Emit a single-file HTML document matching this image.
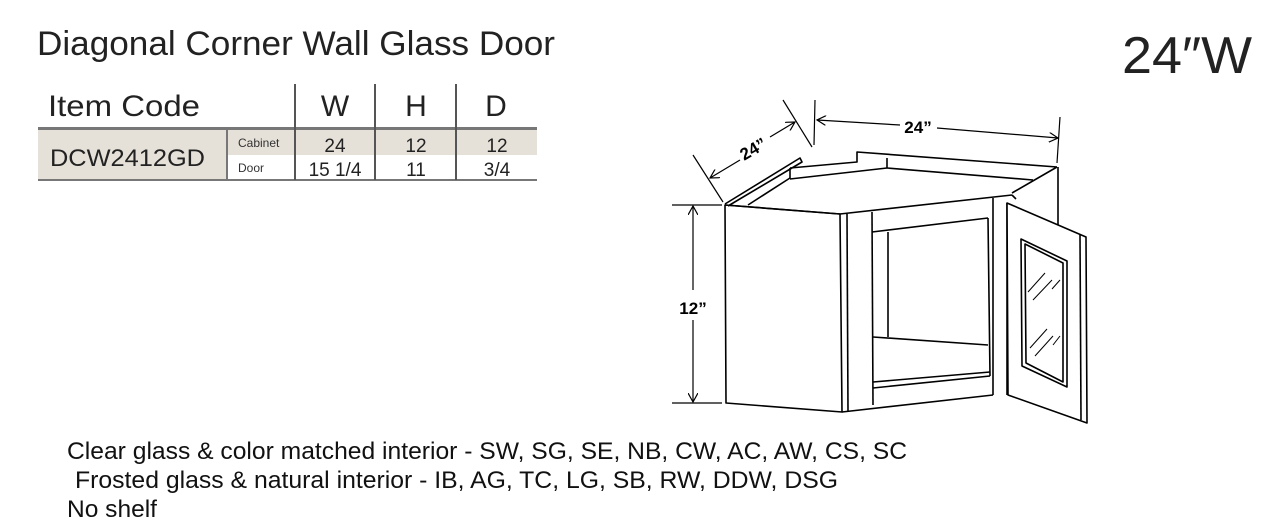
<!DOCTYPE html>
<html><head><meta charset="utf-8"><style>
html,body{margin:0;padding:0;background:#fff;}
svg{display:block;}
text{font-family:"Liberation Sans",sans-serif;}
</style></head><body>
<svg width="1262" height="532" viewBox="0 0 1262 532" xmlns="http://www.w3.org/2000/svg">
<defs>
<marker id="ar" markerWidth="10" markerHeight="10" refX="9" refY="5" orient="auto" markerUnits="userSpaceOnUse">
<path d="M0,0 L9,5 L0,10" fill="none" stroke="#000" stroke-width="1.2"/>
</marker>
</defs>
<!-- Titles -->
<text x="37" y="55" font-size="34" fill="#222" textLength="518" lengthAdjust="spacingAndGlyphs">Diagonal Corner Wall Glass Door</text>
<text x="1122" y="73" font-size="52" fill="#222" textLength="130" lengthAdjust="spacingAndGlyphs">24″W</text>

<!-- Table -->
<rect x="38" y="130" width="499" height="25" fill="#e6e1d8"/>
<rect x="38" y="155" width="189" height="25" fill="#e6e1d8"/>
<rect x="38" y="127" width="499" height="3" fill="#777"/>
<rect x="38" y="179" width="499" height="2" fill="#777"/>
<line x1="227" y1="130" x2="227" y2="180" stroke="#777" stroke-width="2"/>
<line x1="295" y1="84" x2="295" y2="180" stroke="#555" stroke-width="2"/>
<line x1="375" y1="84" x2="375" y2="180" stroke="#555" stroke-width="2"/>
<line x1="456" y1="84" x2="456" y2="180" stroke="#555" stroke-width="2"/>
<text x="48" y="116" font-size="30" fill="#222" textLength="152" lengthAdjust="spacingAndGlyphs">Item  Code</text>
<text x="335" y="116" font-size="30" fill="#222" text-anchor="middle">W</text>
<text x="416" y="116" font-size="30" fill="#222" text-anchor="middle">H</text>
<text x="496" y="116" font-size="30" fill="#222" text-anchor="middle">D</text>
<text x="50" y="166" font-size="24" fill="#222" textLength="155" lengthAdjust="spacingAndGlyphs">DCW2412GD</text>
<text x="238" y="147" font-size="12" fill="#333">Cabinet</text>
<text x="238" y="172" font-size="12" fill="#333">Door</text>
<text x="335" y="152" font-size="19" fill="#222" text-anchor="middle">24</text>
<text x="335" y="176" font-size="19" fill="#222" text-anchor="middle">15 1/4</text>
<text x="416" y="152" font-size="19" fill="#222" text-anchor="middle">12</text>
<text x="416" y="176" font-size="19" fill="#222" text-anchor="middle">11</text>
<text x="497" y="152" font-size="19" fill="#222" text-anchor="middle">12</text>
<text x="497" y="176" font-size="19" fill="#222" text-anchor="middle">3/4</text>

<!-- Cabinet drawing -->
<g fill="none" stroke="#000" stroke-width="1.6" stroke-linejoin="round">
<!-- left side -->
<polygon points="725,205 840,214 842,412 726,403" fill="#fff"/>
<!-- top left rail -->
<polyline points="725,204 800,158 802,162 728,206"/>
<line x1="748" y1="205" x2="790" y2="178"/>
<line x1="790" y1="168" x2="790" y2="179"/>
<!-- back edge -->
<polyline points="790,168 857,162 857,152 1057,167"/>
<line x1="790" y1="179" x2="887" y2="168"/>
<line x1="887" y1="168" x2="1033" y2="180"/>
<line x1="887" y1="158" x2="887" y2="168"/>
<line x1="1057" y1="167" x2="1012" y2="193"/>
<line x1="1058" y1="167" x2="1058" y2="270"/>
<!-- front top edge -->
<line x1="725" y1="205" x2="840" y2="214"/>
<line x1="840" y1="214" x2="1012" y2="195"/>
<line x1="1012" y1="195" x2="1016" y2="199"/>
<!-- front frame -->
<line x1="847" y1="214" x2="848" y2="412"/>
<line x1="872" y1="212" x2="873" y2="405"/>
<line x1="842" y1="412" x2="993" y2="395"/>
<line x1="872" y1="232" x2="988" y2="218"/>
<line x1="988" y1="218" x2="990" y2="376"/>
<line x1="993" y1="198" x2="993" y2="395"/>
<line x1="873" y1="388" x2="990" y2="376"/>
<line x1="873" y1="382" x2="990" y2="372"/>
<line x1="888" y1="232" x2="888" y2="337"/>
<line x1="873" y1="337" x2="988" y2="345"/>
<line x1="1007" y1="203" x2="1007" y2="395"/>
<!-- door -->
<polygon points="1007,203 1086,237 1087,423 1008,395" fill="#fff"/>
<line x1="1080" y1="235" x2="1081" y2="420"/>
<polygon points="1021,239 1067,261 1067,387 1022,366"/>
<polygon points="1025,244 1063,263 1063,382 1026,363"/>
</g>
<g stroke="#000" stroke-width="1">
<line x1="1028" y1="292" x2="1045" y2="273"/>
<line x1="1033" y1="300" x2="1052" y2="280"/>
<line x1="1052" y1="289" x2="1060" y2="280"/>
<line x1="1030" y1="348" x2="1047" y2="329"/>
<line x1="1035" y1="356" x2="1053" y2="336"/>
<line x1="1053" y1="345" x2="1060" y2="336"/>
</g>

<!-- dimension lines -->
<g stroke="#000" stroke-width="1.2" fill="none">
<line x1="672" y1="205" x2="722" y2="205"/>
<line x1="672" y1="403" x2="722" y2="403"/>
<line x1="693" y1="290" x2="693" y2="206" marker-end="url(#ar)"/>
<line x1="693" y1="320" x2="693" y2="402" marker-end="url(#ar)"/>
<line x1="693" y1="155" x2="723" y2="202"/>
<line x1="783" y1="100" x2="812" y2="147"/>
<line x1="740" y1="160" x2="710" y2="178" marker-end="url(#ar)"/>
<line x1="770" y1="137" x2="795" y2="122" marker-end="url(#ar)"/>
<line x1="815" y1="100" x2="814" y2="145"/>
<line x1="1060" y1="117" x2="1057" y2="163"/>
<line x1="900" y1="125" x2="817" y2="120" marker-end="url(#ar)"/>
<line x1="937" y1="128" x2="1058" y2="138" marker-end="url(#ar)"/>
</g>
<text x="693" y="314" font-size="17" font-weight="bold" text-anchor="middle">12”</text>
<text x="918" y="133" font-size="17" font-weight="bold" text-anchor="middle">24”</text>
<text x="0" y="0" font-size="17" font-weight="bold" text-anchor="middle" transform="translate(756,154) rotate(-30)">24”</text>

<!-- Notes -->
<text x="67" y="459" font-size="24" fill="#111" textLength="840" lengthAdjust="spacingAndGlyphs">Clear glass &amp; color matched interior - SW, SG, SE, NB, CW, AC, AW, CS, SC</text>
<text x="75" y="488" font-size="24" fill="#111" textLength="763" lengthAdjust="spacingAndGlyphs">Frosted glass &amp; natural interior - IB, AG, TC, LG, SB, RW,  DDW, DSG</text>
<text x="67" y="517" font-size="24" fill="#111" textLength="90" lengthAdjust="spacingAndGlyphs">No shelf</text>
</svg>
</body></html>
